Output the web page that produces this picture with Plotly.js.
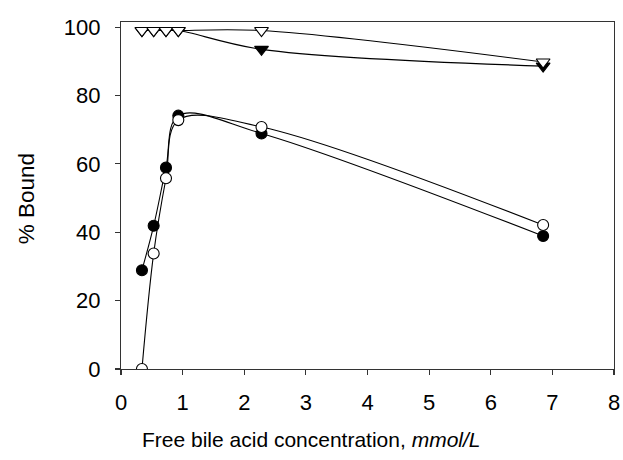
<!DOCTYPE html>
<html>
<head>
<meta charset="utf-8">
<script src="https://cdn.plot.ly/plotly-3.0.1.min.js"></script>
<style>html,body{margin:0;padding:0;background:#fff;}#chart{width:623px;height:460px;}</style>
</head>
<body>
<div id="chart"></div>
<script>
// Free bile acid concentration (mmol/L)
const circleX = [0.34, 0.53, 0.73, 0.93, 2.28, 6.85];
const filledCircleY = [28.9, 41.9, 58.9, 74.1, 68.9, 38.9];
const openCircleY = [0.0, 33.8, 55.8, 72.8, 70.8, 42.1];
const triangleX = [0.34, 0.53, 0.73, 0.93, 2.28, 6.85];
const filledTriangleY = [99.0, 99.0, 99.0, 99.0, 93.5, 88.6];
const openTriangleY = [99.0, 99.0, 99.0, 99.0, 99.0, 89.8];
const xTicks = [0, 1, 2, 3, 4, 5, 6, 7, 8];
const yTicks = [0, 20, 40, 60, 80, 100];
const xTitle = 'Free bile acid concentration, <i>mmol/L</i>';
const yTitle = '% Bound';

function series(x, y, symbol, fill) {
  return {
    x: x, y: y, type: 'scatter', mode: 'lines+markers',
    line: {color: '#000', width: 1.1, shape: 'spline', smoothing: 1},
    marker: {symbol: symbol, size: symbol === 'circle' ? 11 : 12, color: fill,
             line: {color: '#000', width: 1.1}},
    showlegend: false, hoverinfo: 'skip'
  };
}

const data = [
  series(triangleX, filledTriangleY, 'triangle-down', '#000'),
  series(triangleX, openTriangleY, 'triangle-down', '#fff'),
  series(circleX, filledCircleY, 'circle', '#000'),
  series(circleX, openCircleY, 'circle', '#fff')
];

const FONT = 'Liberation Sans, Arial, sans-serif';
const axisCommon = {
  showgrid: false, zeroline: false, showline: true, mirror: true,
  linecolor: '#333', linewidth: 1.2, ticks: 'outside', ticklen: 5,
  tickcolor: '#333', tickwidth: 1.2,
  tickfont: {family: FONT, size: 22, color: '#000'}
};

const layout = {
  width: 623, height: 460,
  margin: {l: 121, r: 9, t: 22, b: 91},
  paper_bgcolor: '#fff', plot_bgcolor: '#fff',
  xaxis: Object.assign({}, axisCommon, {
    range: [0, 8], tickvals: xTicks, ticktext: xTicks.map(String),
    ticklabelstandoff: 8
  }),
  yaxis: Object.assign({}, axisCommon, {
    range: [0, 101.5], tickvals: yTicks, ticktext: yTicks.map(String),
    ticklabelstandoff: 10
  }),
  annotations: [
    {text: xTitle, xref: 'paper', yref: 'paper', x: 0.386, y: -0.204,
     xanchor: 'center', yanchor: 'middle', showarrow: false,
     font: {family: FONT, size: 21, color: '#000'}},
    {text: yTitle, xref: 'paper', yref: 'paper', x: -0.19, y: 0.49,
     xanchor: 'center', yanchor: 'middle', showarrow: false, textangle: -90,
     font: {family: FONT, size: 22.5, color: '#000'}}
  ]
};

Plotly.newPlot('chart', data, layout, {staticPlot: true, displayModeBar: false});
</script>
</body>
</html>
